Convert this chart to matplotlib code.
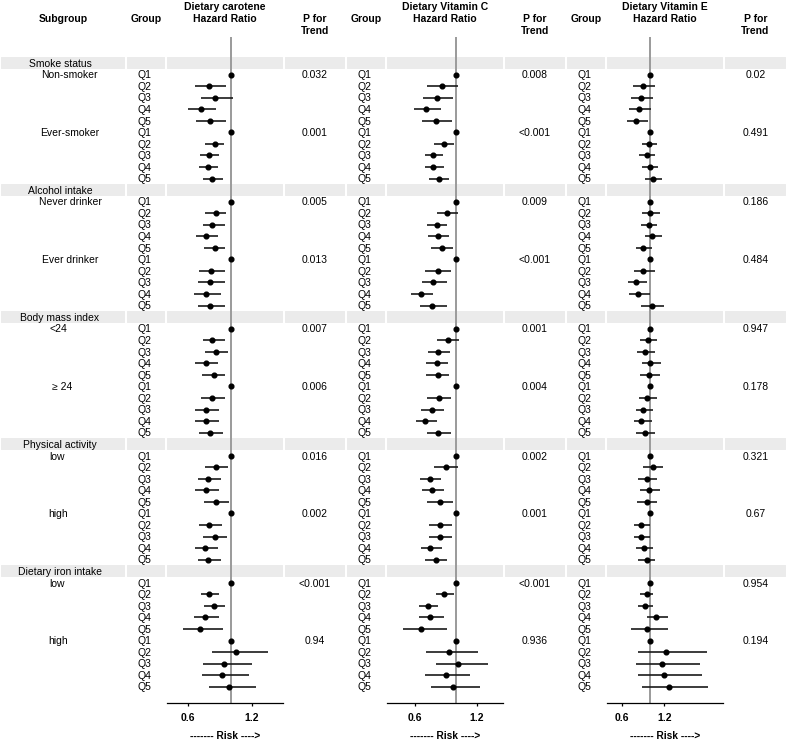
import numpy as np
import matplotlib
matplotlib.use("Agg")
import matplotlib.pyplot as plt
from matplotlib.patches import Rectangle

plt.rcParams['font.family'] = ['Liberation Sans', 'DejaVu Sans']

# ---- data ----
categories = ["Smoke status", "Alcohol intake", "Body mass index",
              "Physical activity", "Dietary iron intake"]
subgroups = ["Non-smoker", "Ever-smoker", "Never drinker", "Ever drinker",
             "<24", "\u2265 24", "low", "high", "low", "high"]
quintiles = ["Q1", "Q2", "Q3", "Q4", "Q5"]

carotene_hr = [[1, 0.80, 0.85, 0.72, 0.81], [1, 0.85, 0.80, 0.79, 0.83],
               [1, 0.86, 0.83, 0.77, 0.85], [1, 0.82, 0.81, 0.77, 0.81],
               [1, 0.83, 0.86, 0.77, 0.84], [1, 0.83, 0.77, 0.77, 0.81],
               [1, 0.86, 0.79, 0.77, 0.86], [1, 0.80, 0.85, 0.76, 0.79],
               [1, 0.80, 0.84, 0.76, 0.71], [1, 1.05, 0.94, 0.92, 0.99]]
carotene_lo = [[1, 0.67, 0.72, 0.60, 0.68], [1, 0.76, 0.71, 0.70, 0.74],
               [1, 0.76, 0.74, 0.68, 0.75], [1, 0.70, 0.69, 0.66, 0.69],
               [1, 0.74, 0.76, 0.67, 0.73], [1, 0.72, 0.67, 0.67, 0.70],
               [1, 0.76, 0.69, 0.67, 0.75], [1, 0.70, 0.74, 0.67, 0.69],
               [1, 0.72, 0.75, 0.66, 0.55], [1, 0.83, 0.74, 0.73, 0.80]]
carotene_hi = [[1, 0.96, 1.02, 0.86, 0.96], [1, 0.94, 0.89, 0.88, 0.93],
               [1, 0.96, 0.95, 0.88, 0.95], [1, 0.95, 0.95, 0.91, 0.95],
               [1, 0.95, 0.98, 0.88, 0.95], [1, 0.95, 0.89, 0.89, 0.93],
               [1, 0.98, 0.91, 0.89, 0.99], [1, 0.92, 0.97, 0.88, 0.91],
               [1, 0.89, 0.95, 0.89, 0.93], [1, 1.35, 1.20, 1.17, 1.24]]
carotene_p = ["0.032", "0.001", "0.005", "0.013", "0.007",
              "0.006", "0.016", "0.002", "<0.001", "0.94"]

vitc_hr = [[1, 0.86, 0.81, 0.71, 0.80], [1, 0.88, 0.78, 0.78, 0.83],
           [1, 0.91, 0.81, 0.82, 0.86], [1, 0.82, 0.78, 0.66, 0.77],
           [1, 0.92, 0.82, 0.81, 0.82], [1, 0.83, 0.77, 0.70, 0.82],
           [1, 0.90, 0.75, 0.77, 0.84], [1, 0.84, 0.84, 0.75, 0.80],
           [1, 0.88, 0.73, 0.75, 0.66], [1, 0.93, 1.02, 0.90, 0.97]]
vitc_lo = [[1, 0.72, 0.68, 0.59, 0.67], [1, 0.79, 0.70, 0.70, 0.74],
           [1, 0.81, 0.72, 0.73, 0.76], [1, 0.70, 0.67, 0.56, 0.65],
           [1, 0.81, 0.73, 0.71, 0.71], [1, 0.72, 0.66, 0.61, 0.72],
           [1, 0.79, 0.65, 0.67, 0.72], [1, 0.74, 0.74, 0.66, 0.70],
           [1, 0.80, 0.64, 0.64, 0.48], [1, 0.71, 0.80, 0.70, 0.76]]
vitc_hi = [[1, 1.02, 0.97, 0.85, 0.96], [1, 0.98, 0.87, 0.88, 0.93],
           [1, 1.02, 0.91, 0.93, 0.97], [1, 0.95, 0.91, 0.78, 0.91],
           [1, 1.03, 0.94, 0.92, 0.93], [1, 0.95, 0.88, 0.81, 0.95],
           [1, 1.02, 0.85, 0.88, 0.97], [1, 0.96, 0.96, 0.86, 0.91],
           [1, 0.98, 0.82, 0.88, 0.91], [1, 1.21, 1.31, 1.14, 1.23]]
vitc_p = ["0.008", "<0.001", "0.009", "<0.001", "0.001",
          "0.004", "0.002", "0.001", "<0.001", "0.936"]

vite_hr = [[1, 0.89, 0.87, 0.84, 0.80], [1, 0.98, 0.95, 0.99, 1.03],
           [1, 0.99, 0.98, 1.02, 0.90], [1, 0.90, 0.80, 0.83, 1.02],
           [1, 0.96, 0.93, 1.00, 0.98], [1, 0.95, 0.90, 0.87, 0.92],
           [1, 1.03, 0.95, 0.98, 0.95], [1, 0.87, 0.87, 0.91, 0.95],
           [1, 0.95, 0.92, 1.08, 0.95], [1, 1.22, 1.17, 1.19, 1.26]]
vite_lo = [[1, 0.75, 0.73, 0.70, 0.67], [1, 0.88, 0.84, 0.88, 0.92],
           [1, 0.88, 0.87, 0.92, 0.80], [1, 0.77, 0.68, 0.70, 0.87],
           [1, 0.85, 0.81, 0.88, 0.85], [1, 0.84, 0.79, 0.77, 0.80],
           [1, 0.89, 0.83, 0.85, 0.81], [1, 0.77, 0.77, 0.80, 0.83],
           [1, 0.85, 0.83, 0.95, 0.72], [1, 0.83, 0.80, 0.83, 0.88]]
vite_hi = [[1, 1.06, 1.03, 1.01, 0.96], [1, 1.10, 1.06, 1.11, 1.17],
           [1, 1.13, 1.10, 1.17, 1.02], [1, 1.06, 0.95, 0.99, 1.20],
           [1, 1.10, 1.07, 1.15, 1.14], [1, 1.10, 1.04, 1.02, 1.06],
           [1, 1.18, 1.10, 1.13, 1.10], [1, 1.00, 1.00, 1.04, 1.07],
           [1, 1.04, 1.03, 1.25, 1.25], [1, 1.81, 1.71, 1.74, 1.82]]
vite_p = ["0.02", "0.491", "0.186", "0.484", "0.947",
          "0.178", "0.321", "0.67", "0.954", "0.194"]

# ---- layout (pixels) ----
W, H = 787, 741
row0, rowh = 63.0, 11.55
fs = 7.5
band_col = "#EBEBEB"
cols = [(0, 126), (126, 166), (166, 283.5), (283.5, 346), (346, 386),
        (386, 503.5), (503.5, 566), (566, 606), (606, 723.5), (723.5, 787)]
panels = [
    ("Dietary carotene", carotene_hr, carotene_lo, carotene_hi, carotene_p,
     (166.7, 282.7), (0.40, 1.49), 2, 3, 1),
    ("Dietary Vitamin C", vitc_hr, vitc_lo, vitc_hi, vitc_p,
     (387.3, 502.7), (0.33, 1.455), 5, 6, 4),
    ("Dietary Vitamin E", vite_hr, vite_lo, vite_hi, vite_p,
     (607.3, 722.7), (0.386, 2.03), 8, 9, 7),
]
axis_y = 702.7
ref_top = 37.0

fig = plt.figure(figsize=(W / 100, H / 100), dpi=100)
ax0 = fig.add_axes([0, 0, 1, 1])
ax0.set_xlim(0, W)
ax0.set_ylim(H, 0)
ax0.axis("off")

def ypix(r):
    return row0 + r * rowh

def ccen(i):
    return (cols[i][0] + cols[i][1]) / 2

def row_of(k, q):
    return (k // 2) * 11 + 1 + (k % 2) * 5 + q

# header
hdr = dict(fontsize=fs, fontweight="bold", ha="center", va="baseline")
ax0.text(ccen(0), 21.7, "Subgroup", **hdr)
for name, _, _, _, _, _, _, pc, pp, gc in panels:
    ax0.text(ccen(gc), 21.7, "Group", **hdr)
    ax0.text(ccen(pc), 9.5, name, **hdr)
    ax0.text(ccen(pc), 21.7, "Hazard Ratio", **hdr)
    ax0.text(ccen(pp), 21.7, "P for", **hdr)
    ax0.text(ccen(pp), 33.5, "Trend", **hdr)

# category bands and labels
sub_x = [69, 70, 70, 70, 58, 62, 57.5, 58, 57.5, 58]
for c, cat in enumerate(categories):
    r = c * 11
    y = ypix(r)
    for (x0, x1) in cols:
        ax0.add_patch(Rectangle((x0, y - 7.2), x1 - x0, 14.4, facecolor=band_col,
                                edgecolor="white", linewidth=1.5, zorder=0))
    ax0.text(60, y + 3.8, cat, fontsize=fs, ha="center", va="baseline")

# subgroup labels, Q labels, p values
for k, sg in enumerate(subgroups):
    r1 = row_of(k, 0)
    ax0.text(sub_x[k], ypix(r1) + 3.8, sg, fontsize=fs, ha="center", va="baseline")
    for name, _, _, _, pv, _, _, pc, pp, gc in panels:
        ax0.text(ccen(pp), ypix(r1) + 3.8, pv[k], fontsize=fs, ha="center", va="baseline")
    for q, ql in enumerate(quintiles):
        for name, _, _, _, pv, _, _, pc, pp, gc in panels:
            ax0.text(ccen(gc) - 2, ypix(row_of(k, q)) + 3.8, ql, fontsize=fs,
                     ha="center", va="baseline")

# forest panels
for name, hr, lo, hi, pv, (px0, px1), xl, pc, pp, gc in panels:
    ax = fig.add_axes([px0 / W, 1 - axis_y / H, (px1 - px0) / W, (axis_y - ref_top) / H])
    ax.patch.set_alpha(0)
    ax.set_xlim(*xl)
    ax.set_ylim((axis_y - row0) / rowh, (ref_top - row0) / rowh)
    ax.axvline(1, color="#9A9A9A", lw=1.4, zorder=1)
    rows = [row_of(k, q) for k in range(10) for q in range(5)]
    est = np.array(hr).ravel()
    l = np.array(lo).ravel()
    h = np.array(hi).ravel()
    ax.hlines(rows, l, h, color="#1a1a1a", lw=1.2, zorder=2)
    ax.plot(est, rows, "o", color="black", ms=3.4, zorder=3)
    for s in ["top", "left", "right"]:
        ax.spines[s].set_visible(False)
    ax.spines["bottom"].set_linewidth(0.9)
    ax.set_yticks([])
    ax.set_xticks([0.6, 1.2])
    ax.set_xticklabels(["0.6", "1.2"], fontsize=7.5, fontweight="bold")
    ax.tick_params(axis="x", length=2.5, width=0.9, pad=5)
    ax0.text((px0 + px1) / 2, 739, "------- Risk ---->", fontsize=7.3,
             fontweight="bold", ha="center", va="baseline")

fig.savefig("out.png", dpi=100)
